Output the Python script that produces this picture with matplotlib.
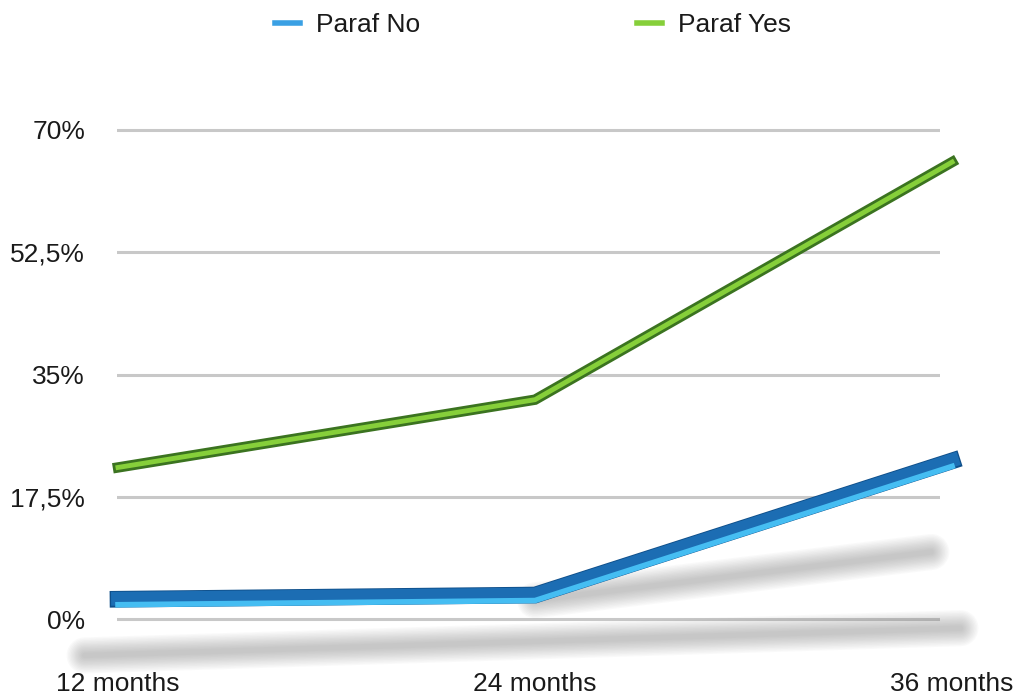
import matplotlib.pyplot as plt
import matplotlib.transforms as mtransforms
from matplotlib.lines import Line2D

plt.rcParams['font.family'] = ['Liberation Sans', 'DejaVu Sans']

months = ["12 months", "24 months", "36 months"]
paraf_no = [2.7, 3.3, 22.5]
paraf_yes = [21.7, 31.4, 65.4]
y_ticks = [0, 17.5, 35, 52.5, 70]
y_tick_labels = ["0%", "17,5%", "35%", "52,5%", "70%"]

# soft shadows (floor shadow and shadow of the rising blue part)
shadow_no_x = [1, 1.95]
shadow_no = [2.7, 9.6]
floor_x = [-0.08, 2.02]
floor_shadow = [-5.2, -1.3]

blue_dark = "#1c6db3"
blue_light = "#45bdf2"
green_dark = "#3b7320"
green_light = "#86cf3a"

fig = plt.figure(figsize=(10.28, 6.95), dpi=100)
ax = fig.add_axes([117 / 1028, 20 / 695, 823 / 1028, 580 / 695])
x = list(range(len(months)))

ax.set_ylim(-8, 75)
ax.set_xlim(-0.0024, 1.971)
ax.set_yticks(y_ticks)
ax.set_yticklabels(y_tick_labels, fontsize=19, color='#1a1a1a')
ax.set_xticks([])
ax.tick_params(axis='y', length=0, pad=23)
for s in ax.spines.values():
    s.set_visible(False)
ax.grid(axis='y', color='#c8c8c8', linewidth=2.2)
ax.set_axisbelow(True)


def shift(dy):
    return mtransforms.offset_copy(ax.transData, fig=fig, x=0, y=dy, units='dots')


# blurred shadows: many faint layers
for i in range(12):
    lw = 26 - 2 * i
    for xs, ys in [(floor_x, floor_shadow), (shadow_no_x, shadow_no)]:
        ax.plot(xs, ys, color='#6e6e6e', lw=lw, alpha=0.035,
                solid_capstyle='round', clip_on=False, zorder=1)

# blue ribbon
ax.plot(x, paraf_no, color='#0f4f8a', lw=12, solid_joinstyle='miter',
        transform=shift(1), clip_on=False, zorder=3)
ax.plot(x, paraf_no, color=blue_dark, lw=10, solid_joinstyle='miter',
        transform=shift(1.5), clip_on=False, zorder=3)
ax.plot(x, paraf_no, color=blue_light, lw=4, solid_joinstyle='miter',
        transform=shift(-4.5), clip_on=False, zorder=4)

# green ribbon
ax.plot(x, paraf_yes, color=green_dark, lw=7.5, solid_joinstyle='miter',
        clip_on=False, zorder=3)
ax.plot(x, paraf_yes, color=green_light, lw=3.5, solid_joinstyle='miter',
        clip_on=False, zorder=4)

for xi, label in zip(x, months):
    ax.text(xi, -0.015, label, transform=ax.get_xaxis_transform(),
            ha='center', va='center', fontsize=19, color='#1a1a1a', clip_on=False)

handles = [Line2D([], [], color='#3aa0e4', lw=4),
           Line2D([], [], color=green_light, lw=4)]
fig.legend(handles, ["Paraf No", "Paraf Yes"], loc='center',
           bbox_to_anchor=(533 / 1028, 1 - 25 / 695), ncol=2, frameon=False,
           fontsize=19, handlelength=0.95, handletextpad=0.6, columnspacing=8.2,
           labelcolor='#1a1a1a')

fig.savefig("out.png", dpi=100)
